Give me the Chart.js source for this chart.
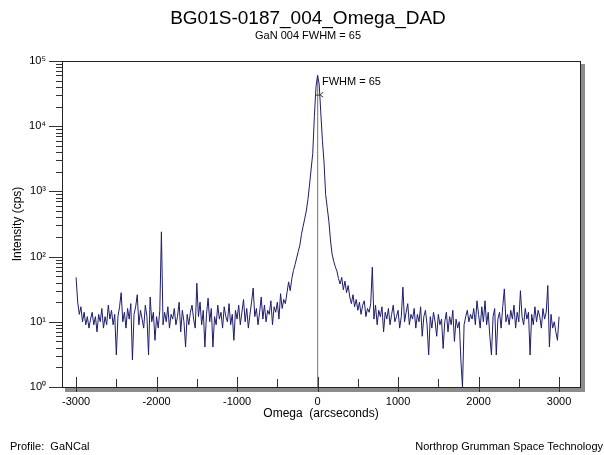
<!DOCTYPE html>
<html>
<head>
<meta charset="utf-8">
<script src="https://cdn.jsdelivr.net/npm/chart.js@4.4.1/dist/chart.umd.min.js"></script>
<style>
  body { margin: 0; background: #fff; }
  canvas { display: block; }
</style>
</head>
<body>
<canvas id="omegaChart" width="604" height="455"></canvas>
<script>
// Omega scan, 20 arcsec steps from -3000 to 3000
const omegaStart = -3000;
const omegaStep = 20;
const intensity = [
  48, 20, 13, 17, 10, 14, 9, 12, 8, 11,
  14, 9, 12, 7, 13, 10, 16, 8, 12, 9,
  18, 11, 15, 9, 13, 3.1, 12, 17, 28, 10,
  14, 8, 16, 11, 19, 2.6, 13, 17, 26, 9,
  15, 11, 8, 18, 12, 3.1, 24, 10, 14, 5.2,
  12, 8, 15, 240, 9, 14, 10, 17, 8, 13,
  11, 16, 9, 12, 20, 7, 15, 10, 4.1, 13,
  9, 14, 18, 11, 8, 39, 12, 20, 9, 15,
  4.1, 13, 23, 10, 16, 4.1, 12, 9, 18, 11,
  14, 8, 17, 12, 10, 19, 9, 13, 5.2, 15,
  11, 18, 9, 14, 22, 10, 16, 8, 13, 20,
  33, 12, 16, 9, 14, 24, 11, 18, 10, 15,
  13, 21, 9, 17, 14, 20, 11, 27, 16, 22,
  19, 28, 41, 30, 46, 61, 75, 95, 120, 150,
  220, 290, 380, 500, 750, 1250, 2200, 3800, 14000, 40000,
  60000, 44000, 16000, 6000, 2800, 900, 560, 350, 180, 110,
  85, 70, 60, 46, 38, 48, 31, 42, 28, 36,
  24, 19, 26, 17, 22, 15, 20, 13, 18, 21,
  12, 16, 14, 19, 69, 11, 18, 9, 15, 12,
  17, 7, 14, 11, 16, 9, 13, 18, 10, 12,
  15, 8, 12, 34, 10, 14, 19, 9, 13, 11,
  16, 8, 13, 10, 17, 6, 12, 15, 9, 3.1,
  12, 8, 14, 10, 6, 13, 9, 11, 3.9, 10,
  14, 7, 12, 9, 15, 5, 11, 8, 10, 2.6,
  1, 9, 12, 15, 10, 13, 11, 16, 9, 21,
  13, 8, 17, 10, 21, 9, 14, 6, 3.1, 12,
  16, 3.1, 11, 14, 8, 17, 32, 10, 13, 9,
  15, 11, 18, 8, 14, 10, 30, 12, 9, 16,
  11, 14, 3.1, 13, 9, 17, 10, 15, 12, 8,
  16, 11, 14, 36, 4.1, 13, 8, 10, 7, 5.2,
  12
];
const xTicks = [-3000, -2500, -2000, -1500, -1000, -500, 0, 500, 1000, 1500, 2000, 2500, 3000];
const yTicks = [1, 10, 100, 1000, 10000, 100000];
const peakPos = 0;
const peakTop = 60000;
const fwhm = 65;

const sup = ['⁰', '¹', '²', '³', '⁴', '⁵'];
const scanPoints = intensity.map((v, i) => ({ x: omegaStart + i * omegaStep, y: v }));

const FONT = '"Liberation Sans", Arial, sans-serif';

const framePlugin = {
  id: 'frame',
  afterDraw(chart) {
    const { ctx, chartArea: a, scales: { x, y } } = chart;
    ctx.save();
    // drop shadow
    ctx.fillStyle = '#8c8c8c';
    ctx.fillRect(a.right + 1, a.top + 3, 4, a.bottom - a.top + 2);
    ctx.fillRect(a.left + 3, a.bottom + 1, a.right - a.left + 2, 4);
    // box
    ctx.strokeStyle = '#222';
    ctx.lineWidth = 1;
    ctx.strokeRect(a.left + 0.5, a.top + 0.5, a.right - a.left, a.bottom - a.top);

    // x tick marks
    ctx.strokeStyle = '#333';
    xTicks.forEach(v => {
      const px = Math.round(x.getPixelForValue(v)) + 0.5;
      const major = v % 1000 === 0;
      ctx.beginPath();
      ctx.moveTo(px, a.bottom - (major ? 10 : 8));
      ctx.lineTo(px, a.bottom + (major ? 5 : 0));
      ctx.stroke();
    });
    // y tick marks, decades and minors
    yTicks.forEach((d, k) => {
      const py = Math.round(y.getPixelForValue(d)) + 0.5;
      ctx.beginPath();
      ctx.moveTo(a.left - 13, py);
      ctx.lineTo(a.left, py);
      ctx.stroke();
      if (k < yTicks.length - 1) {
        for (let m = 2; m <= 9; m++) {
          const pm = Math.round(y.getPixelForValue(d * m)) + 0.5;
          ctx.beginPath();
          ctx.moveTo(a.left - 6, pm);
          ctx.lineTo(a.left, pm);
          ctx.stroke();
        }
      }
    });

    // FWHM marker
    const hy = y.getPixelForValue(peakTop / 2);
    const hx1 = x.getPixelForValue(peakPos - fwhm / 2);
    const hx2 = x.getPixelForValue(peakPos + fwhm / 2);
    ctx.strokeStyle = '#333';
    ctx.beginPath();
    ctx.moveTo(hx1, hy); ctx.lineTo(hx2, hy);
    ctx.moveTo(hx2 + 3, hy - 3); ctx.lineTo(hx2, hy); ctx.lineTo(hx2 + 3, hy + 2);
    ctx.stroke();
    ctx.fillStyle = '#000';
    ctx.font = '11px ' + FONT;
    ctx.textAlign = 'left';
    ctx.textBaseline = 'middle';
    ctx.fillText('FWHM = ' + fwhm, x.getPixelForValue(peakPos + 55), y.getPixelForValue(peakTop) + 7);

    // titles and footer
    ctx.textAlign = 'center';
    ctx.font = '19px ' + FONT;
    ctx.fillText('BG01S-0187_004_Omega_DAD', 308, 19);
    ctx.font = '11px ' + FONT;
    ctx.fillText('GaN 004 FWHM = ' + fwhm, 308, 36);
    ctx.textAlign = 'left';
    ctx.fillText('Profile:  GaNCal', 10, 447);
    ctx.textAlign = 'right';
    ctx.fillText('Northrop Grumman Space Technology', 603, 447);
    ctx.restore();
  }
};

new Chart(document.getElementById('omegaChart'), {
  type: 'line',
  data: {
    datasets: [{
      label: 'Omega scan',
      data: scanPoints,
      borderColor: '#1c1c6e',
      borderWidth: 1,
      pointRadius: 0,
      tension: 0
    }, {
      label: 'Peak',
      data: [{ x: peakPos, y: peakTop }, { x: peakPos, y: 1 }],
      borderColor: '#8a8a8a',
      borderWidth: 1,
      pointRadius: 0
    }]
  },
  options: {
    responsive: false,
    animation: false,
    layout: { padding: { top: 61, right: 24, left: 0, bottom: 0 } },
    plugins: {
      legend: { display: false },
      tooltip: { enabled: false }
    },
    scales: {
      x: {
        type: 'linear',
        min: -3175,
        max: 3260,
        afterBuildTicks: s => { s.ticks = xTicks.map(v => ({ value: v })); },
        afterFit: s => { s.height = 68; },
        grid: { display: false, drawTicks: false },
        border: { display: false },
        ticks: {
          padding: 8,
          color: '#000',
          font: { size: 11, family: FONT },
          maxRotation: 0,
          autoSkip: false,
          callback: v => (v % 1000 === 0 ? String(v) : '')
        },
        title: {
          display: true,
          text: 'Omega  (arcseconds)',
          color: '#000',
          font: { size: 12, family: FONT },
          padding: { top: 0, bottom: 34 }
        }
      },
      y: {
        type: 'logarithmic',
        min: 1,
        max: 100000,
        afterBuildTicks: s => { s.ticks = yTicks.map(v => ({ value: v })); },
        afterFit: s => { s.width = 62; },
        grid: { display: false, drawTicks: false },
        border: { display: false },
        ticks: {
          padding: 16,
          color: '#000',
          font: { size: 11, family: FONT },
          callback: v => '10' + sup[Math.round(Math.log10(v))]
        },
        title: {
          display: true,
          text: 'Intensity (cps)',
          color: '#000',
          font: { size: 12, family: FONT },
          padding: { top: 10, bottom: 0 }
        }
      }
    }
  },
  plugins: [framePlugin]
});
</script>
</body>
</html>
